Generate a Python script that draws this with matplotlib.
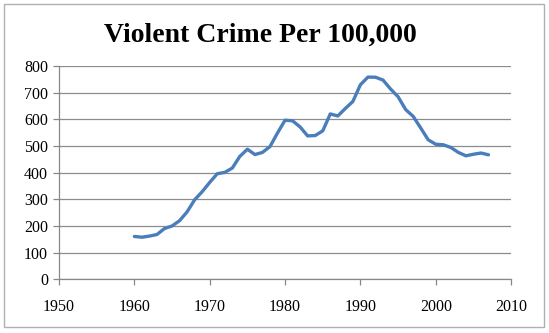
import matplotlib.pyplot as plt
from matplotlib.patches import Rectangle

# violent crime rate per 100,000 inhabitants, 1960-2007
years = list(range(1960, 2008))
rate = [160.9, 158.1, 162.3, 168.2, 190.6, 200.2, 220.0, 253.2, 298.4, 328.7,
        363.5, 396.0, 401.0, 417.4, 461.1, 487.8, 467.8, 475.9, 497.8, 548.9,
        596.6, 594.3, 571.1, 537.7, 539.2, 556.6, 620.1, 612.5, 640.6, 666.9,
        729.6, 758.2, 757.7, 747.1, 713.6, 684.5, 636.6, 611.0, 567.6, 523.0,
        506.5, 504.5, 494.4, 475.8, 463.2, 469.0, 473.6, 466.9]

xticks = [1950, 1960, 1970, 1980, 1990, 2000, 2010]
yticks = [0, 100, 200, 300, 400, 500, 600, 700, 800]

plt.rcParams['font.family'] = ['Liberation Serif', 'DejaVu Serif']

fig = plt.figure(figsize=(5.49, 3.33), dpi=100)
ax = fig.add_axes([0.1075, 0.161, 0.8235, 0.641])

ax.plot(years, rate, color='#4A7EBB', lw=2.4, solid_joinstyle='round',
        solid_capstyle='round', zorder=3)

ax.set_xlim(1950, 2010)
ax.set_ylim(0, 800)
ax.set_xticks(xticks)
ax.set_yticks(yticks)
ax.tick_params(labelsize=11.5, color='#888888', length=4, width=0.9)
ax.tick_params(axis='y', pad=4)
ax.tick_params(axis='x', pad=10)

ax.grid(axis='y', color='#8c8c8c', lw=0.9, zorder=1)
ax.grid(axis='x', visible=False)
for side in ['top', 'right']:
    ax.spines[side].set_visible(False)
for side in ['left', 'bottom']:
    ax.spines[side].set_color('#888888')
    ax.spines[side].set_linewidth(0.9)

fig.text(0.474, 0.895, 'Violent Crime Per 100,000', ha='center', va='center',
         fontsize=20, fontweight='bold')

# chart border
fig.patches.append(Rectangle((0.007, 0.018), 0.984, 0.97, transform=fig.transFigure,
                             fill=False, edgecolor='#b0b0b0', lw=1.0))

fig.savefig('out.png', dpi=100)
